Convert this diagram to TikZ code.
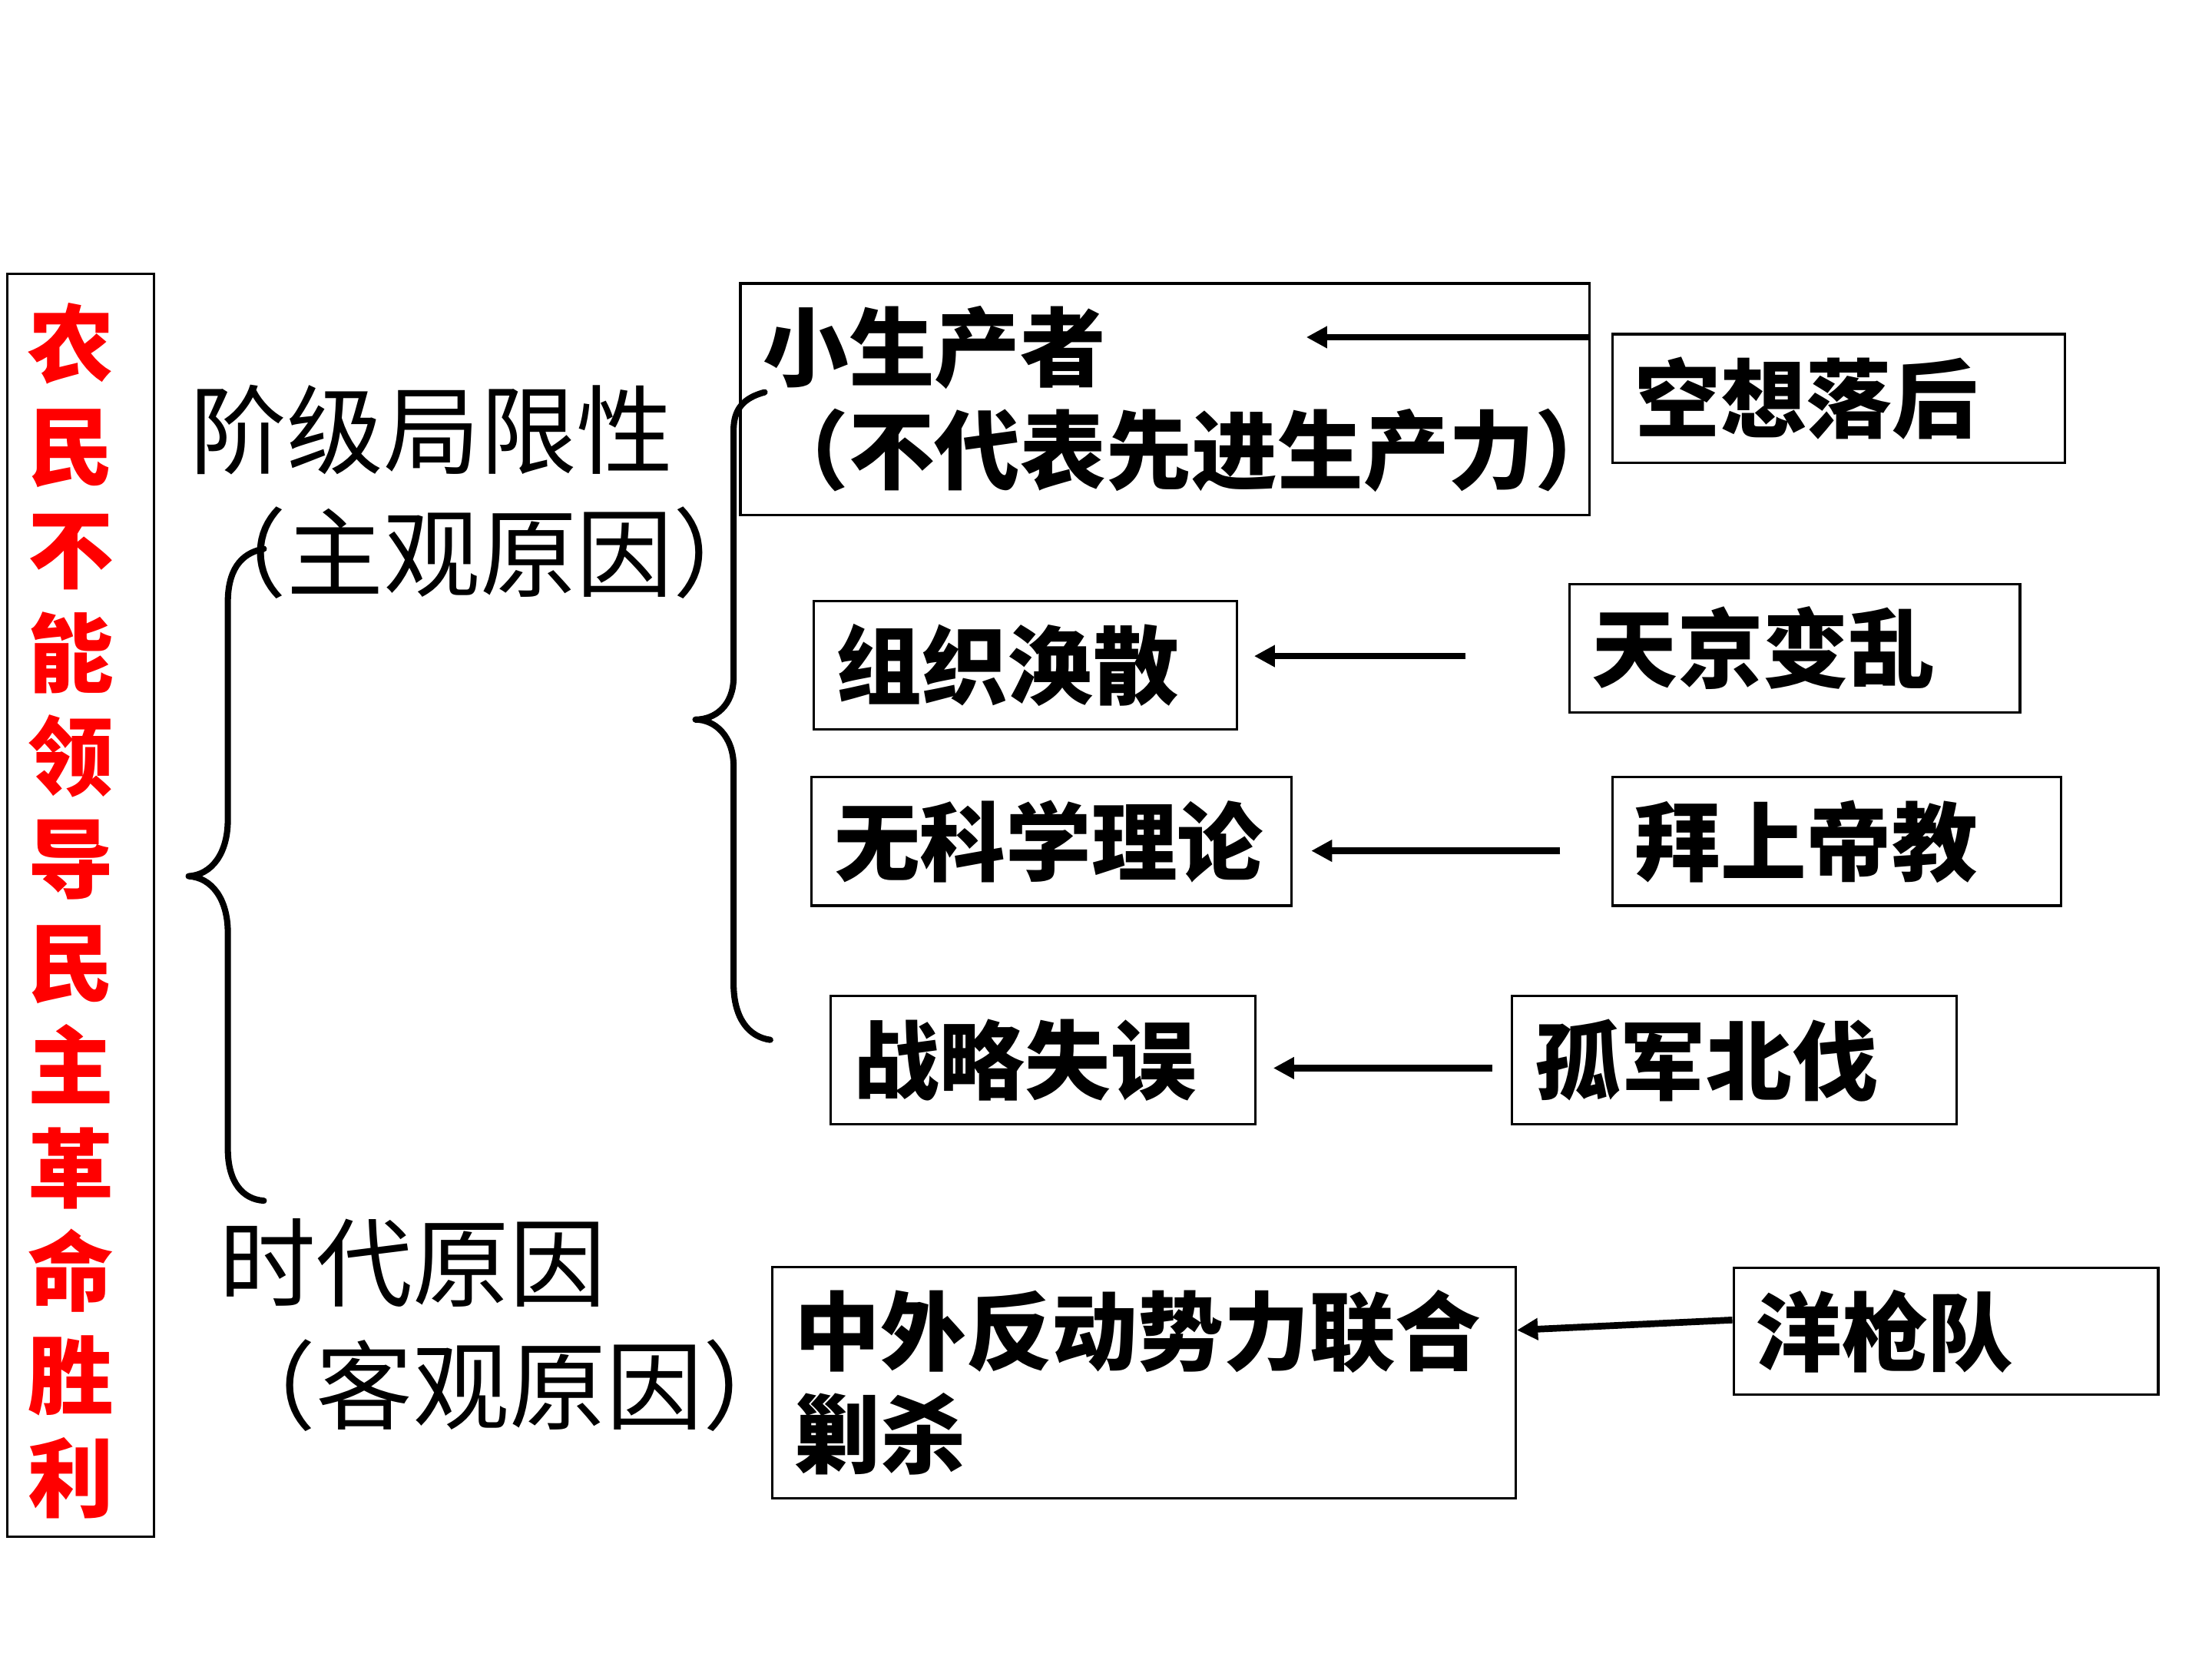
\documentclass[tikz,border=0pt]{standalone}
\usepackage{fontspec}
\usepackage{tikz}
\usetikzlibrary{arrows.meta}
\newfontfamily\cjk{Noto Sans CJK SC}
\newcommand{\cjkbox}{\cjk\bfseries\fontsize{17.3pt}{20.8pt}\selectfont}
\newcommand{\cjkside}{\cjk\fontsize{19.5pt}{24.8pt}\selectfont}

\begin{document}
\begin{tikzpicture}[x=0.1mm, y=-0.1mm,
  cbox/.style={draw, line width=0.5pt, inner xsep=1.6mm, inner ysep=0pt, align=left, anchor=north west, font=\cjkbox},
  side/.style={anchor=west, align=left, inner sep=0pt, font=\cjkside},
  arr/.style={-{Triangle[length=4.2pt,width=4.2pt]}, line width=1.35pt},
  brace/.style={line width=1.25pt, line cap=round, line join=round}]
\path[use as bounding box, fill=white] (0,0) rectangle (1568,1176);
% title column
\draw[line width=0.5pt] (5,194) rectangle (109,1089);
\node[inner sep=0pt, align=center, text=red, font=\cjkbox] (title) at (50,645.5) {农\\民\\不\\能\\领\\导\\民\\主\\革\\命\\胜\\利};
% two groups of causes
\node[side] (jieji) at (134,348.5) {阶级局限性\\（主观原因）};
\node[side] (shidai) at (155,939) {时代原因\\（客观原因）};
\draw[brace] (187,389) .. controls (170,392) and (161.5,405) .. (161.5,427) -- (161.5,581)
  .. controls (161.5,605) and (150,620) .. (133.7,621) .. controls (150,622) and (161.5,637) .. (161.5,661)
  -- (161.5,814) .. controls (161.5,838) and (172,850) .. (187,851);
\draw[brace] (542,278) .. controls (527,282) and (520,290) .. (520,305) -- (520,480)
  .. controls (520,500) and (507,510) .. (493,510) .. controls (507,510) and (520,522) .. (520,543)
  -- (520,697) .. controls (520,722) and (531,735) .. (546,737);
% left boxes
\node[cbox, text width=57mm, minimum height=16.4mm] (xiaosheng) at (524,200) {小生产者\\（不代表先进生产力\rlap{）}};
\node[cbox, text width=26.8mm, minimum height=9.1mm] (zuzhi) at (576,425) {组织涣散};
\node[cbox, text width=30.8mm, minimum height=9.1mm] (wukexue) at (574.5,550) {无科学理论};
\node[cbox, text width=26.9mm, minimum height=9.1mm] (zhanlue) at (588,705) {战略失误};
\node[cbox, text width=49.5mm, minimum height=16.4mm] (zhongwai) at (546.6,897) {中外反动势力联合\\剿杀};
% right boxes
\node[cbox, text width=28.9mm, minimum height=9.1mm] (kongxiang) at (1142,236) {空想落后};
\node[cbox, text width=28.75mm, minimum height=9.1mm] (tianjing) at (1111.5,413) {天京变乱};
\node[cbox, text width=28.6mm, minimum height=9.1mm] (baishangdi) at (1142,550) {拜上帝教};
\node[cbox, text width=28.3mm, minimum height=9.1mm] (gujun) at (1071,705) {孤军北伐};
\node[cbox, text width=26.9mm, minimum height=9mm] (yangqiang) at (1228,897.6) {洋枪队};
% arrows
\coordinate (t1) at (926,239);
\coordinate (s1) at (xiaosheng.east |- t1);
\coordinate (s2) at (1039,465);
\coordinate (t2) at (889,465);
\coordinate (s3) at (1106,603);
\coordinate (t3) at (929.5,603);
\coordinate (s4) at (1057.6,757);
\coordinate (t4) at (902.6,757);
\draw[arr] (s1) -- (t1);
\draw[arr] (s2) -- (t2);
\draw[arr] (s3) -- (t3);
\draw[arr] (s4) -- (t4);
\draw[arr] (yangqiang.177) -- (zhongwai.8);
\end{tikzpicture}
\end{document}
